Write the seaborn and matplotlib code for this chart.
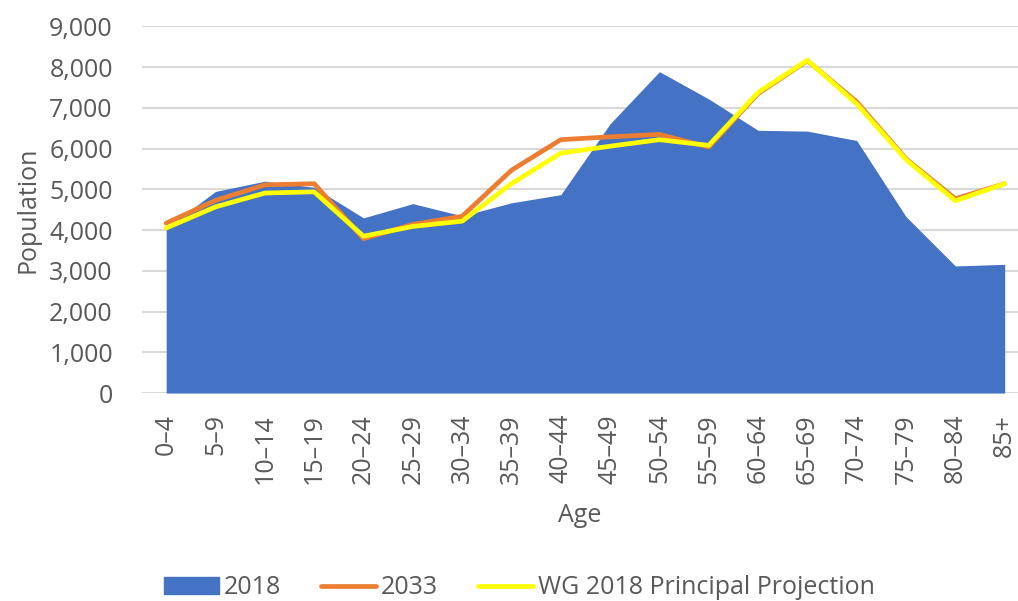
import numpy as np
import pandas as pd
import matplotlib
matplotlib.use("Agg")
import matplotlib.pyplot as plt
import seaborn as sns
from matplotlib.patches import Patch
from matplotlib.lines import Line2D

# age bands and populations
ages = ["0–4", "5–9", "10–14", "15–19", "20–24", "25–29", "30–34", "35–39",
        "40–44", "45–49", "50–54", "55–59", "60–64", "65–69", "70–74",
        "75–79", "80–84", "85+"]
pop_2018 = [4050, 4950, 5200, 5050, 4300, 4650, 4350, 4670, 4870, 6610,
            7890, 7220, 6450, 6430, 6200, 4330, 3120, 3160]
pop_2033 = [4170, 4730, 5110, 5140, 3790, 4140, 4340, 5470, 6220, 6290,
            6350, 6040, 7350, 8160, 7150, 5750, 4770, 5140]
pop_wg = [4050, 4570, 4910, 4940, 3850, 4090, 4220, 5140, 5890, 6060,
          6220, 6080, 7380, 8170, 7100, 5730, 4720, 5140]

BLUE = "#4472C4"
ORANGE = "#ED7D31"
YELLOW = "#FFFF00"
GREY = "#595959"
FS = 18

sns.set_theme(style="white")
plt.rcParams["font.family"] = ["Open Sans", "DejaVu Sans"]

df = pd.DataFrame({"age": ages, "y2018": pop_2018, "y2033": pop_2033, "wg": pop_wg})
df["pos"] = np.arange(len(df))

fig = plt.figure(figsize=(10.18, 6.01), dpi=100)
ax = fig.add_axes([0.1395, 0.346, 0.8605, 0.61])

ax.fill_between(df["pos"], 0, df["y2018"], color=BLUE, lw=0, zorder=2)
sns.lineplot(data=df, x="pos", y="y2033", color=ORANGE, lw=3.4, ax=ax, zorder=3)
sns.lineplot(data=df, x="pos", y="wg", color=YELLOW, lw=3.4, ax=ax, zorder=4)

ax.set_xlim(-0.49, len(ages) - 1 + 0.27)
ax.set_ylim(0, 9000)
ax.set_yticks(np.arange(0, 9001, 1000))
ax.set_yticklabels([f"{v:,}" for v in range(0, 9001, 1000)], fontsize=FS, color=GREY)
ax.set_xticks(df["pos"])
ax.set_xticklabels(ages, rotation=90, fontsize=FS, color=GREY)
ax.tick_params(axis="y", length=0, pad=21)
ax.tick_params(axis="x", length=0, pad=15)
ax.yaxis.grid(True, color="#D9D9D9", lw=1.5, zorder=0)
ax.set_axisbelow(True)
for s in ax.spines.values():
    s.set_visible(False)

ax.set_xlabel("Age", fontsize=FS, color=GREY, labelpad=14)
ax.set_ylabel("Population", fontsize=FS, color=GREY, labelpad=6)

handles = [Patch(color=BLUE, label="2018"),
           Line2D([0], [0], color=ORANGE, lw=3.4, label="2033"),
           Line2D([0], [0], color=YELLOW, lw=3.4, label="WG 2018 Principal Projection")]
fig.legend(handles=handles, loc="center", bbox_to_anchor=(0.51, 0.022),
           bbox_transform=fig.transFigure, ncol=3, frameon=False,
           fontsize=FS, labelcolor=GREY, handlelength=2.2,
           columnspacing=1.6, handletextpad=0.2)

fig.savefig("out.png", dpi=100)
